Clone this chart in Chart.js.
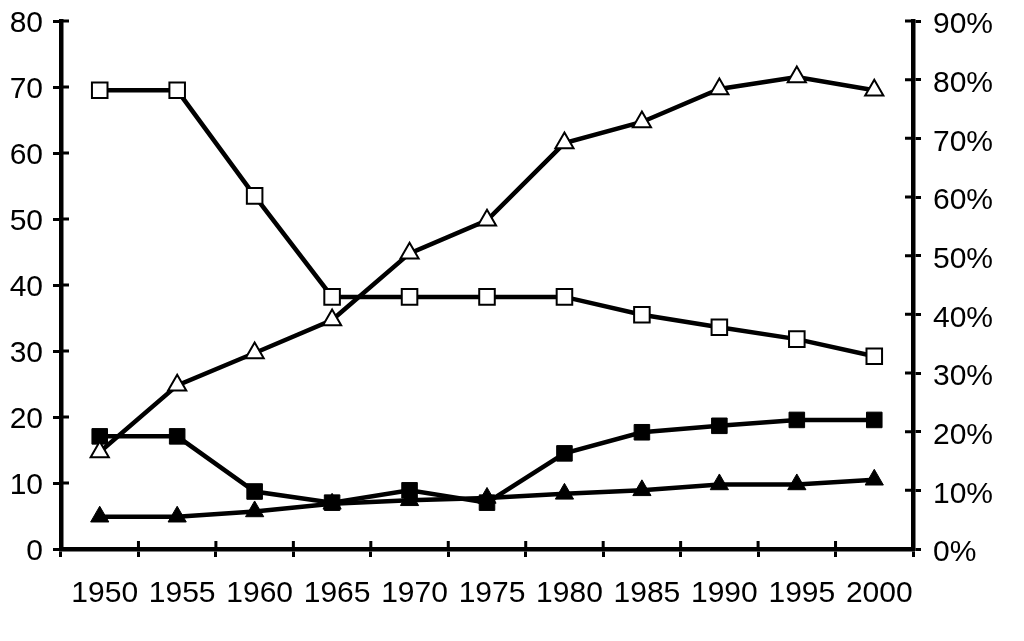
<!DOCTYPE html>
<html>
<head>
<meta charset="utf-8">
<script src="https://cdn.jsdelivr.net/npm/chart.js@4"></script>
<style>
  html, body { margin: 0; background: #fff; }
  #wrap { width: 1024px; height: 641px; }
</style>
</head>
<body>
<div id="wrap"><canvas id="chart"></canvas></div>
<script>
/* DATA */
const years = ["1950", "1955", "1960", "1965", "1970", "1975", "1980", "1985", "1990", "1995", "2000"];
// left axis (0-80)
const openTriangles = [14.7, 24.8, 29.7, 34.7, 44.8, 49.8, 61.5, 64.7, 69.7, 71.5, 69.5];
const openSquares = [69.5, 69.5, 53.5, 38.2, 38.2, 38.2, 38.2, 35.5, 33.6, 31.8, 29.2];
// right axis (0%-90%)
const filledSquares = [19.2, 19.2, 9.8, 7.9, 10.0, 7.9, 16.3, 19.9, 21.0, 22.0, 22.0];
const filledTriangles = [5.5, 5.5, 6.4, 7.7, 8.3, 8.7, 9.4, 10.0, 11.0, 11.0, 11.8];
const leftTicks = { min: 0, max: 80, step: 10 };
const rightTicks = { min: 0, max: 90, step: 10 };

const FONT = { family: "'Liberation Sans', Arial, sans-serif", size: 30 };

/* inward half of the tick marks */
const innerTicks = {
    id: "innerTicks",
    beforeDatasetsDraw(chart) {
        const ctx = chart.ctx;
        const x = chart.scales.x;
        const yl = chart.scales.yLeft;
        const yr = chart.scales.yRight;
        ctx.save();
        ctx.strokeStyle = "#000";
        ctx.lineWidth = 3;
        ctx.beginPath();
        for (let i = 0; i <= years.length; i++) {
            const px = x.getPixelForValue(i - 0.5);
            ctx.moveTo(px, x.top);
            ctx.lineTo(px, x.top - 8);
        }
        yl.ticks.forEach(t => {
            const py = yl.getPixelForValue(t.value);
            ctx.moveTo(yl.right, py);
            ctx.lineTo(yl.right + 8, py);
        });
        yr.ticks.forEach(t => {
            const py = yr.getPixelForValue(t.value);
            ctx.moveTo(yr.left, py);
            ctx.lineTo(yr.left - 8, py);
        });
        ctx.stroke();
        ctx.restore();
    }
};

function series(data, axis, style, radius, filled) {
    return {
        data: data,
        yAxisID: axis,
        borderColor: "#000",
        borderWidth: 4.5,
        pointStyle: style,
        pointRadius: radius,
        pointBackgroundColor: filled ? "#000" : "#fff",
        pointBorderColor: "#000",
        pointBorderWidth: filled ? 1 : 2,
        tension: 0,
        fill: false
    };
}

const axisGrid = { display: true, drawOnChartArea: false, drawTicks: true, tickLength: 8, color: "#000", lineWidth: 3 };
const axisBorder = { display: true, color: "#000", width: 4.5 };

function fitY(width) {
    return s => {
        s.width = width;
        s.paddingTop = 0;
        s.paddingBottom = 0;
    };
}

new Chart(document.getElementById("chart"), {
    type: "line",
    data: {
        labels: years,
        datasets: [
            series(openTriangles, "yLeft", "triangle", 10.5, false),
            series(filledSquares, "yRight", "rect", 11, true),
            series(openSquares, "yLeft", "rect", 11, false),
            series(filledTriangles, "yRight", "triangle", 10.5, true)
        ]
    },
    options: {
        responsive: true,
        maintainAspectRatio: false,
        animation: false,
        layout: { padding: { top: 21, left: 0, right: 0, bottom: 0 } },
        plugins: { legend: { display: false }, tooltip: { enabled: false } },
        scales: {
            x: {
                type: "category",
                offset: true,
                grid: Object.assign({}, axisGrid, { offset: true }),
                border: axisBorder,
                ticks: { font: FONT, color: "#000", padding: 19, labelOffset: 5, maxRotation: 0, autoSkip: false },
                afterFit: s => { s.height = 92; s.paddingLeft = 0; s.paddingRight = 0; }
            },
            yLeft: {
                position: "left",
                min: leftTicks.min,
                max: leftTicks.max,
                grid: axisGrid,
                border: axisBorder,
                ticks: { stepSize: leftTicks.step, font: FONT, color: "#000", padding: 10, labelOffset: 3 },
                afterFit: fitY(61)
            },
            yRight: {
                position: "right",
                min: rightTicks.min,
                max: rightTicks.max,
                grid: axisGrid,
                border: axisBorder,
                ticks: { stepSize: rightTicks.step, font: FONT, color: "#000", padding: 12, labelOffset: 4,
                    callback: v => v + "%" },
                afterFit: fitY(111)
            }
        }
    },
    plugins: [innerTicks]
});
</script>
</body>
</html>
